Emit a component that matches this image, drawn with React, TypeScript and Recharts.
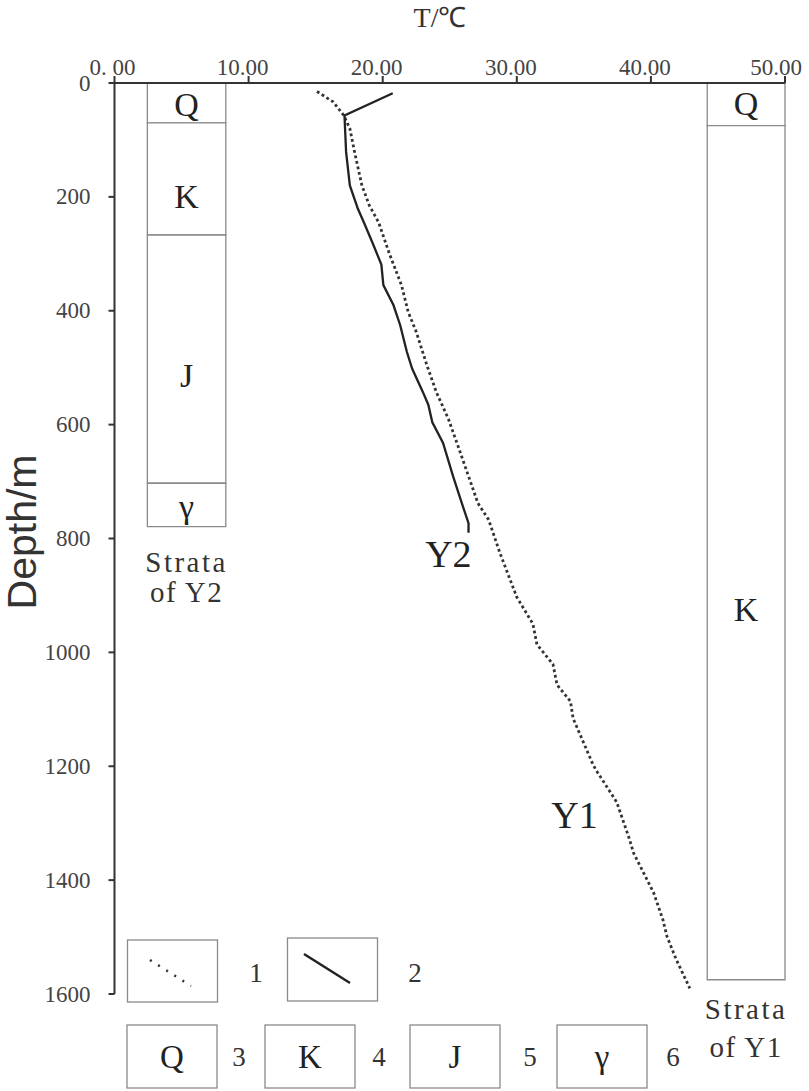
import React from "react";
import {
  ScatterChart,
  Scatter,
  XAxis,
  YAxis,
  ReferenceArea,
  ReferenceDot,
  Label,
} from "recharts";

const SERIF = "Liberation Serif";
const SANS = "Liberation Sans";

const tempTicks = [0, 10, 20, 30, 40, 50];
const tempTickLabels = ["0. 00", "10.00", "20.00", "30.00", "40.00", "50.00"];
const depthTicks = [0, 200, 400, 600, 800, 1000, 1200, 1400, 1600];

// Y1 well, dotted profile (T in °C, depth in m)
const y1Temp = [
  15.1, 16.3, 17.1, 17.55, 17.9, 18.45, 19.0, 19.7, 20.5, 21.4, 21.9, 22.5,
  23.3, 24.0, 24.9, 25.8, 27.1, 27.9, 28.75, 30.0, 31.2, 31.5, 32.7, 33.0,
  34.0, 34.2, 35.7, 36.0, 37.45, 38.4, 38.7, 40.2, 40.9, 41.2, 41.9, 42.9,
];
const y1Depth = [
  15, 33, 57, 80, 121, 180, 215, 245, 300, 355, 402, 437, 496, 543, 590, 650,
  738, 767, 826, 903, 950, 986, 1021, 1057, 1086, 1116, 1198, 1210, 1263, 1328,
  1352, 1422, 1470, 1499, 1540, 1590,
];

// Y2 well, solid profile
const y2Temp = [
  20.75, 17.15, 17.27, 17.55, 18.15, 18.6, 19.3, 19.9, 20.05, 20.8, 21.3, 21.8,
  22.2, 23.0, 23.4, 23.7, 24.5, 25.25, 25.9, 26.4, 26.4,
];
const y2Depth = [
  18, 57, 121, 180, 221, 245, 284, 319, 355, 390, 425, 472, 502, 543, 565, 596,
  632, 691, 738, 773, 790,
];

// strata columns
const y2StrataNames = ["Q", "K", "J", "γ"];
const y2StrataTop = [0, 70, 267, 703];
const y2StrataBottom = [70, 267, 703, 779];
const y2StrataLabelDepth = [37, 198, 513, 743];
const y2ColumnTemp = [2.45, 8.3];

const y1StrataNames = ["Q", "K"];
const y1StrataTop = [0, 75];
const y1StrataBottom = [75, 1575];
const y1StrataLabelDepth = [35, 924];
const y1ColumnTemp = [44.2, 50];

const legendSymbols = ["Q", "K", "J", "γ"];
const legendNumbers = ["3", "4", "5", "6"];

const y1Data = y1Temp.map((t, i) => ({ t, d: y1Depth[i] }));
const y2Data = y2Temp.map((t, i) => ({ t, d: y2Depth[i] }));

const W = 809;
const H = 1091;

function noPoint() {
  return <g />;
}

function TempTick({ x, y, payload }: any) {
  const v = payload.value;
  const dx = v === 0 ? -2 : v === 50 ? -9 : -6;
  return (
    <text x={x + dx} y={y} textAnchor="middle" fontSize={23} fontFamily={SERIF} fill="#444">
      {tempTickLabels[tempTicks.indexOf(v)]}
    </text>
  );
}

function DepthTick({ x, y, payload }: any) {
  return (
    <text x={x} y={y} textAnchor="end" dominantBaseline="central" fontSize={23} fontFamily={SERIF} fill="#444">
      {payload.value}
    </text>
  );
}

function textLabel(value: string, fontSize: number, extra: object = {}) {
  return {
    value,
    position: "center" as const,
    fontSize,
    fontFamily: SERIF,
    fill: "#222",
    ...extra,
  };
}

export default function App() {
  const midY2 = (y2ColumnTemp[0] + y2ColumnTemp[1]) / 2;
  const midY1 = (y1ColumnTemp[0] + y1ColumnTemp[1]) / 2;
  const boxStyle = { fill: "#fff", fillOpacity: 1, stroke: "#8a8a8a", strokeWidth: 1.3 };

  return (
    <div
      style={{ position: "absolute", left: 0, top: 0, width: W, height: H, background: "#fff", fontFamily: SERIF }}
    >
      <ScatterChart width={W} height={H} margin={{ top: 0, right: 24, bottom: 97, left: 0 }}>
        <XAxis
          type="number"
          dataKey="t"
          orientation="top"
          domain={[0, 50]}
          ticks={tempTicks}
          interval={0}
          height={83}
          tickSize={7}
          tickMargin={1}
          axisLine={{ stroke: "#333", strokeWidth: 2 }}
          tickLine={{ stroke: "#333", strokeWidth: 2 }}
          tick={<TempTick />}
        >
          <Label
            content={() => (
              <text x={440} y={27} textAnchor="middle" fontSize={28} fontFamily={SERIF} fill="#333">
                T/℃
              </text>
            )}
          />
        </XAxis>
        <YAxis
          type="number"
          dataKey="d"
          reversed
          domain={[0, 1600]}
          ticks={depthTicks}
          interval={0}
          width={114.5}
          tickSize={6}
          tickMargin={18}
          axisLine={{ stroke: "#333", strokeWidth: 2 }}
          tickLine={{ stroke: "#333", strokeWidth: 2 }}
          tick={<DepthTick />}
        >
          <Label
            content={() => (
              <text
                x={22}
                y={532}
                transform="rotate(-90, 22, 532)"
                textAnchor="middle"
                dominantBaseline="central"
                fontSize={41}
                fontFamily={SANS}
                fill="#333"
              >
                Depth/m
              </text>
            )}
          />
        </YAxis>

        {y2StrataNames.map((n, i) => (
          <ReferenceArea
            key={"a2" + n}
            x1={y2ColumnTemp[0]}
            x2={y2ColumnTemp[1]}
            y1={y2StrataTop[i]}
            y2={y2StrataBottom[i]}
            {...boxStyle}
          />
        ))}
        {y1StrataNames.map((n, i) => (
          <ReferenceArea
            key={"a1" + n}
            x1={y1ColumnTemp[0]}
            x2={y1ColumnTemp[1]}
            y1={y1StrataTop[i]}
            y2={y1StrataBottom[i]}
            {...boxStyle}
          />
        ))}
        {y2StrataNames.map((n, i) => (
          <ReferenceDot
            key={"l2" + n}
            x={midY2}
            y={y2StrataLabelDepth[i]}
            r={0}
            fill="none"
            stroke="none"
            label={textLabel(n, 34)}
          />
        ))}
        {y1StrataNames.map((n, i) => (
          <ReferenceDot
            key={"l1" + n}
            x={midY1}
            y={y1StrataLabelDepth[i]}
            r={0}
            fill="none"
            stroke="none"
            label={textLabel(n, 34)}
          />
        ))}

        <ReferenceDot x={midY2} y={840} r={0} fill="none" stroke="none"
          label={textLabel("Strata", 29, { letterSpacing: 2.5, fill: "#333" })} />
        <ReferenceDot x={midY2} y={893} r={0} fill="none" stroke="none"
          label={textLabel("of Y2", 29, { letterSpacing: 1.5, fill: "#333" })} />
        <ReferenceDot x={midY1} y={1626} r={0} fill="none" stroke="none" ifOverflow="visible"
          label={textLabel("Strata", 29, { letterSpacing: 2.5, fill: "#333" })} />
        <ReferenceDot x={midY1} y={1692} r={0} fill="none" stroke="none" ifOverflow="visible"
          label={textLabel("of Y1", 29, { letterSpacing: 1.5, fill: "#333" })} />

        <ReferenceDot x={24.9} y={826} r={0} fill="none" stroke="none" label={textLabel("Y2", 38)} />
        <ReferenceDot x={34.3} y={1285} r={0} fill="none" stroke="none" label={textLabel("Y1", 38)} />

        <Scatter
          data={y1Data}
          fill="#333"
          line={{ stroke: "#333", strokeWidth: 2.8, strokeDasharray: "2.8 2.8" }}
          lineType="joint"
          shape={noPoint}
          isAnimationActive={false}
        />
        <Scatter
          data={y2Data}
          fill="#222"
          line={{ stroke: "#222", strokeWidth: 2.3 }}
          lineType="joint"
          shape={noPoint}
          isAnimationActive={false}
        />
      </ScatterChart>

      <svg
        width={W}
        height={H}
        style={{ position: "absolute", left: 0, top: 0, pointerEvents: "none" }}
        fontFamily={SERIF}
      >
        <rect x={127.5} y={940} width={90} height={62} fill="#fff" stroke="#8a8a8a" strokeWidth={1.3} />
        <line x1={150} y1={960} x2={191} y2={986} stroke="#333" strokeWidth={2.5} strokeDasharray="2 7.6" />
        <text x={256} y={973} fontSize={27} fill="#333" textAnchor="middle" dominantBaseline="central">1</text>
        <rect x={287.5} y={938} width={90} height={63} fill="#fff" stroke="#8a8a8a" strokeWidth={1.3} />
        <line x1={304} y1={954} x2={350} y2={983} stroke="#222" strokeWidth={2.5} />
        <text x={415} y={973} fontSize={27} fill="#333" textAnchor="middle" dominantBaseline="central">2</text>
        {legendSymbols.map((s, i) => {
          const bx = [127, 265, 410, 557][i];
          const nx = [239, 379, 530, 673][i];
          return (
            <g key={s}>
              <rect x={bx} y={1025} width={90} height={63} fill="#fff" stroke="#8a8a8a" strokeWidth={1.3} />
              <text x={bx + 45} y={1057} fontSize={33} fill="#222" textAnchor="middle" dominantBaseline="central">{s}</text>
              <text x={nx} y={1057} fontSize={27} fill="#333" textAnchor="middle" dominantBaseline="central">{legendNumbers[i]}</text>
            </g>
          );
        })}
      </svg>
    </div>
  );
}
